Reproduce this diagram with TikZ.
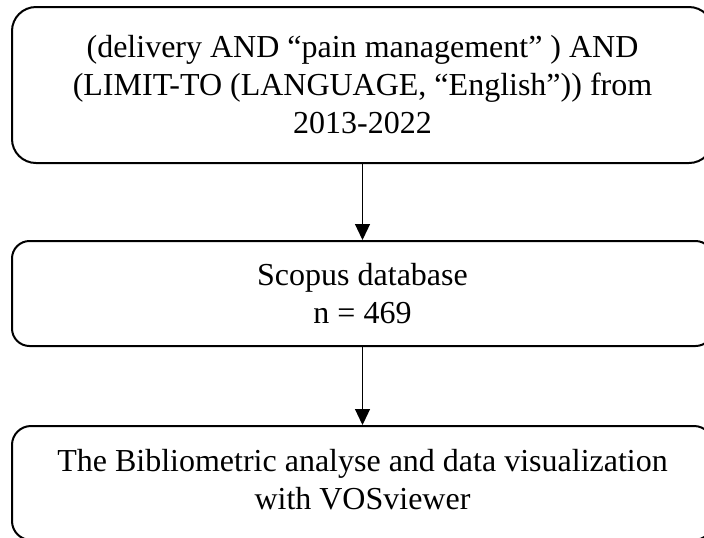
\documentclass[tikz,border=0pt]{standalone}
\usepackage{fontspec}
\setmainfont{Liberation Serif}
\usetikzlibrary{positioning,arrows.meta}

\begin{document}
\begin{tikzpicture}[
    box/.style={rectangle, draw, line width=1pt, minimum width=350.5pt, align=center, font=\fontsize{16}{19}\selectfont},
    arrow/.style={-{Triangle[length=8pt,width=7.5pt]}, line width=0.6pt}
]
\useasboundingbox (0,0) rectangle (352pt,-268.5pt);

% Search query
\node[box, rounded corners=12pt, minimum height=78pt] (query) at (181.25pt,-42.5pt) {(delivery AND “pain management” ) AND\\(LIMIT-TO (LANGUAGE, “English”)) from\\2013-2022};

% Database
\node[box, rounded corners=8.75pt, minimum height=52.5pt, below=38pt of query] (scopus) {Scopus database\\n = 469};

% Analysis
\node[box, rounded corners=9.5pt, minimum height=57pt, below=39pt of scopus] (analysis) {The Bibliometric analyse and data visualization\\with VOSviewer\vphantom{y}};

% Arrows
\draw[arrow] (query) -- (scopus);
\draw[arrow] (scopus) -- (analysis);

\end{tikzpicture}
\end{document}
